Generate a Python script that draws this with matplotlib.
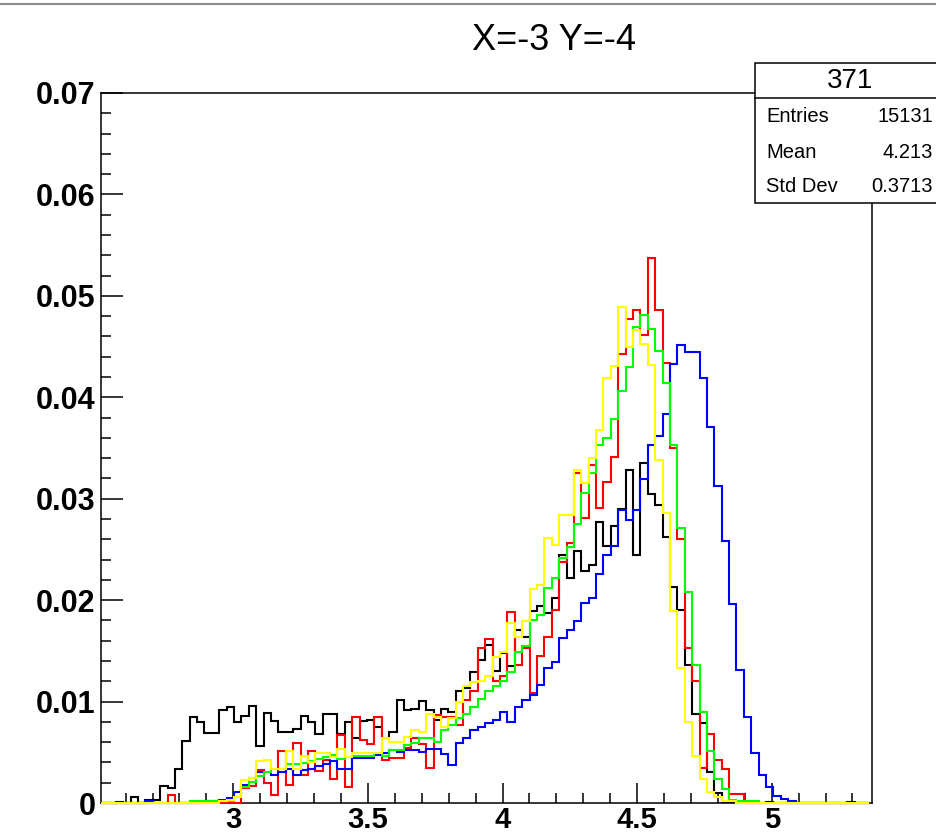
import numpy as np
import matplotlib
matplotlib.use('Agg')
import matplotlib.pyplot as plt
from matplotlib.ticker import FixedLocator
from matplotlib.patches import Rectangle
from matplotlib.lines import Line2D

plt.rcParams['font.family'] = ['Liberation Sans', 'DejaVu Sans']

# histogram binning (104 bins)
x_lo = 2.5085
x_hi = 5.3726
bin_w = 0.02745
edges = x_lo + bin_w * np.arange(105)

# bin contents, in units of 1e-3
black_h = [0, 0, 0.13, 0, 0.62, 0, 0.3, 0.3, 1.7, 1.45,
           3.4, 6.1, 8.5, 8.0, 6.9, 6.9, 9.2, 9.5, 8.0, 8.6,
           9.6, 5.6, 8.9, 8.1, 7.0, 7.0, 7.3, 8.6, 8.0, 6.8,
           8.8, 8.8, 6.8, 8.0, 6.4, 8.1, 8.2, 7.5, 6.4, 7.0,
           10.2, 9.2, 9.3, 10.1, 9.2, 8.2, 9.3, 9.0, 11.0, 11.3,
           12.9, 14.1, 15.6, 13.0, 14.8, 13.5, 17.1, 16.4, 18.9, 19.4,
           18.7, 20.2, 24.5, 22.2, 24.8, 22.9, 23.5, 27.7, 25.3, 27.3,
           29.0, 32.8, 24.5, 33.5, 30.5, 29.4, 26.2, 21.3, 19.0, 13.6,
           8.8, 7.9, 3.1, 0.95, 0.13, 0.13, 0, 0, 0, 0,
           0.13, 0, 0, 0, 0, 0, 0, 0, 0, 0,
           0, 0.13, 0, 0]
red_h = [0, 0, 0, 0, 0, 0, 0, 0, 0, 0.8,
         0, 0, 0, 0, 0, 0, 0, 0, 0, 1.45,
         1.7, 3.3, 2.0, 0.8, 5.1, 1.8, 5.9, 2.8, 5.1, 3.2,
         4.2, 2.4, 6.7, 1.6, 8.5, 6.2, 5.8, 8.5, 4.2, 4.4,
         4.4, 5.4, 6.4, 5.8, 3.5, 8.7, 8.5, 8.5, 7.7, 10.2,
         11.0, 15.3, 16.2, 12.0, 12.5, 18.8, 13.6, 15.3, 10.8, 14.5,
         16.4, 19.0, 23.8, 25.6, 32.5, 28.1, 33.3, 29.1, 31.6, 34.1,
         44.3, 47.7, 48.6, 46.1, 53.7, 48.6, 43.4, 35.0, 26.0, 15.3,
         12.0, 3.5, 6.8, 4.2, 3.4, 0.9, 0.9, 0, 0, 0,
         0, 0, 0, 0, 0, 0, 0, 0, 0, 0,
         0, 0, 0, 0]
blue_h = [0, 0, 0, 0, 0, 0, 0.15, 0, 0, 0,
          0, 0, 0, 0, 0.2, 0.2, 0.3, 0.5, 1.1, 1.8,
          2.1, 3.1, 3.1, 2.8, 3.1, 3.4, 2.8, 3.3, 3.4, 3.6,
          3.8, 4.1, 3.4, 3.4, 4.4, 4.4, 4.4, 4.7, 4.9, 5.2,
          5.0, 5.2, 5.2, 5.0, 5.3, 5.3, 4.8, 3.7, 5.9, 6.4,
          7.2, 7.5, 7.9, 8.2, 9.0, 8.0, 9.5, 10.2, 10.6, 11.6,
          13.3, 13.9, 16.3, 17.1, 17.9, 19.7, 20.2, 22.6, 24.5, 25.3,
          28.9, 27.9, 28.9, 31.9, 35.3, 36.2, 38.4, 43.3, 45.2, 44.5,
          44.5, 41.9, 37.1, 31.3, 25.8, 19.6, 13.1, 8.5, 4.9, 2.8,
          1.6, 0.7, 0.4, 0.2, 0, 0, 0, 0, 0, 0,
          0, 0, 0, 0]
green_h = [0, 0, 0, 0, 0, 0, 0, 0, 0, 0,
           0, 0, 0.2, 0.2, 0.2, 0.2, 0.2, 0.2, 0.6, 1.6,
           2.1, 2.7, 3.1, 3.4, 3.4, 3.8, 3.8, 3.9, 4.1, 4.3,
           4.5, 4.7, 4.3, 4.5, 4.6, 4.6, 4.6, 4.9, 4.6, 5.2,
           5.2, 5.7, 5.9, 6.4, 6.4, 6.0, 7.2, 7.7, 8.4, 8.8,
           9.5, 10.3, 11.0, 11.5, 12.0, 12.9, 14.9, 15.5, 18.0, 18.5,
           21.2, 22.2, 24.2, 25.2, 27.5, 30.6, 32.5, 35.3, 36.0, 37.9,
           40.6, 43.0, 46.9, 48.1, 46.7, 44.6, 41.4, 35.3, 27.1, 20.8,
           13.6, 9.0, 5.1, 2.4, 1.4, 0.3, 0.2, 0.2, 0.2, 0,
           0, 0, 0, 0, 0, 0, 0, 0, 0, 0,
           0, 0, 0, 0]
yellow_h = [0, 0, 0, 0, 0, 0, 0, 0, 0, 0,
            0, 0, 0, 0, 0, 0, 0.2, 0.3, 0.6, 2.3,
            2.5, 4.1, 4.2, 3.4, 3.4, 5.1, 3.4, 4.6, 4.0, 4.9,
            4.9, 4.5, 5.3, 4.5, 4.9, 4.9, 4.9, 4.9, 6.4, 6.0,
            6.0, 6.5, 7.2, 7.0, 8.8, 8.5, 7.5, 8.4, 10.0, 11.5,
            11.9, 12.0, 12.5, 14.4, 14.9, 17.7, 16.4, 17.9, 21.1, 21.5,
            26.1, 25.4, 28.4, 28.4, 32.8, 31.5, 34.0, 36.8, 41.9, 43.1,
            48.9, 45.0, 46.6, 45.3, 43.2, 33.8, 28.6, 18.9, 13.3, 8.0,
            4.6, 2.4, 1.1, 0.6, 0.15, 0.15, 0, 0, 0, 0,
            0, 0, 0, 0, 0, 0, 0, 0, 0, 0,
            0, 0, 0, 0]

x_major = [3, 3.5, 4, 4.5, 5]
x_labels = ['3', '3.5', '4', '4.5', '5']
y_major = [0, 0.01, 0.02, 0.03, 0.04, 0.05, 0.06, 0.07]
y_labels = ['0', '0.01', '0.02', '0.03', '0.04', '0.05', '0.06', '0.07']

stat_title = '371'
stat_names = ['Entries', 'Mean', 'Std Dev']
stat_values = ['15131', '4.213', '0.3713']

W, H = 936, 838
fig = plt.figure(figsize=(W / 100, H / 100), dpi=100)
ax = fig.add_axes([101 / W, 35 / H, 771 / W, 710 / H])

series = [(black_h, 'black'), (red_h, '#ff0000'), (blue_h, '#0000ff'),
          (green_h, '#00ff00'), (yellow_h, '#ffff00')]
for vals, col in series:
    ax.stairs(np.array(vals) * 1e-3, edges, color=col, lw=1.5,
              zorder=3, clip_on=False)

ax.set_xlim(x_lo, x_hi)
ax.set_ylim(0, 0.07)
ax.xaxis.set_major_locator(FixedLocator(x_major))
ax.xaxis.set_minor_locator(FixedLocator(np.arange(2.6, 5.35, 0.1)))
ax.yaxis.set_major_locator(FixedLocator(y_major))
ax.yaxis.set_minor_locator(FixedLocator(np.arange(0, 0.0701, 0.002)))
ax.set_xticklabels(x_labels, fontweight='bold', fontsize=21)
ax.set_yticklabels(y_labels, fontweight='bold', fontsize=22)
ax.tick_params(axis='x', which='major', direction='in', length=14.4, width=1.1, pad=2.5)
ax.tick_params(axis='x', which='minor', direction='in', length=7.2, width=1.1)
ax.tick_params(axis='y', which='major', direction='in', length=15.8, width=1.1, pad=4)
ax.tick_params(axis='y', which='minor', direction='in', length=7.5, width=1.1)
for sp in ax.spines.values():
    sp.set_linewidth(1.1)

# title
fig.text(554 / W, 1 - 40 / H, 'X=-3 Y=-4', ha='center', va='center', fontsize=26)

# window border line at the very top
fig.add_artist(Line2D([0, 1], [1 - 4 / H] * 2, color='#8c8c8c', lw=1.5))

# stats box
box_top, box_bot, box_sep = 63.3, 203.3, 97.7
fig.add_artist(Rectangle((755 / W, 1 - box_bot / H), 0.25, (box_bot - box_top) / H,
                         transform=fig.transFigure, facecolor='white',
                         edgecolor='black', lw=1.1, zorder=10))
fig.add_artist(Line2D([755 / W, 1.05], [1 - box_sep / H] * 2, color='black',
                      lw=1.1, zorder=11))
fig.text(850 / W, 1 - 81 / H, stat_title, ha='center', va='center', fontsize=20, zorder=12)
for i, (name, val) in enumerate(zip(stat_names, stat_values)):
    y = 1 - (117 + 35 * i) / H
    fig.text(766 / W, y, name, ha='left', va='center', fontsize=14.5, zorder=12)
    fig.text(933 / W, y, val, ha='right', va='center', fontsize=14.5, zorder=12)

fig.savefig('out.png', dpi=100)
